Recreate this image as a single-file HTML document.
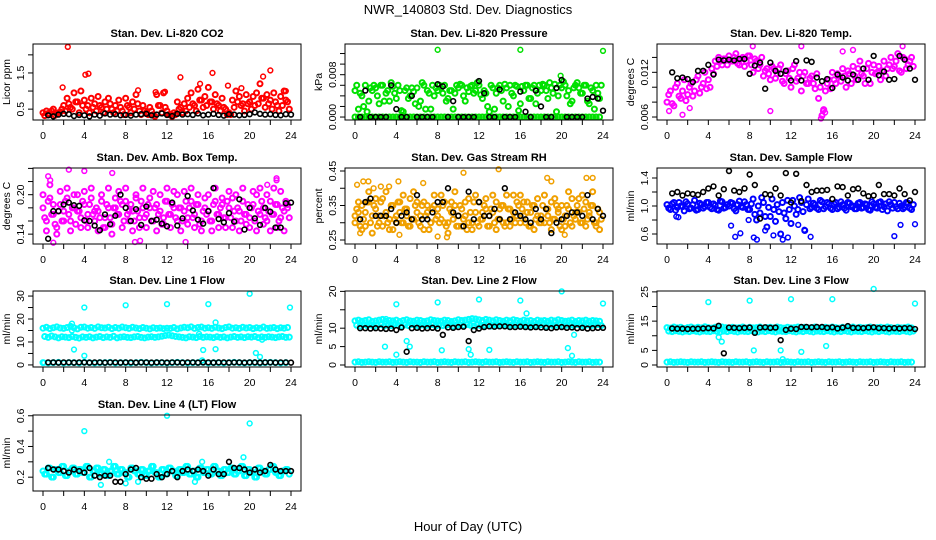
<!DOCTYPE html>
<html><head><meta charset="utf-8">
<style>
html,body{margin:0;padding:0;background:#fff;}
svg{display:block;font-family:"Liberation Sans",Arial,sans-serif;}
.t{font-weight:bold;font-size:11px;}
.tk{font-size:10.5px;}
</style></head>
<body>
<svg id="chart" width="936" height="540" viewBox="0 0 936 540">
<text x="468" y="14" text-anchor="middle" font-size="13">NWR_140803  Std. Dev. Diagnostics</text>
<text x="468" y="531" text-anchor="middle" font-size="13">Hour of Day (UTC)</text>
</svg>
<script>
// ---------- data ----------
const xTicks=[0,2,4,6,8,10,12,14,16,18,20,22,24];
const xTickLabels=["0","","4","","8","","12","","16","","20","","24"];

// P1 CO2
const co2A=[.40,.45,.35,.50,.38,.42,.60,.80,.55,.95,.70,1.0,.75,.60,.80,.65,.85,.55,.70,.80,.50,.60,.75,.45,.80,.55,.70,.90,.45,.60,.40,.55,.35,.90,.60,.95,.45,.35,.40,.70,.55,.65,.80,.95,.60,1.05,.75,.85,1.1,.70,.90,.60,.80,.50,.40,.75,1.0,.85,.65,.90,.70,.85,.95,1.2,.80,.90,.75,.95,.60,.85,1.0,.70];
const co2B=[.32,.38,.45,.33,.40,.50,.45,.65,.50,.70,.40,.60,.50,.40,.55,.45,.60,.40,.50,.65,.40,.45,.55,.35,.60,.40,.50,.65,.35,.45,.35,.45,.30,.60,.40,.55,.35,.30,.35,.50,.40,.45,.55,.65,.45,.75,.55,.60,.70,.50,.65,.45,.55,.35,.35,.55,.70,.60,.45,.65,.50,.60,.65,.80,.55,.65,.50,.70,.45,.60,.75,.50];
const co2OutX=[2.4,4.1,4.4,13.3,16.4,22,21.3,1.9,17.9,9.2,11.8,10.9,15.2,19.2,23.5];
const co2OutY=[2.22,1.45,1.48,1.38,1.5,1.57,1.4,1.1,1.15,1.02,0.98,0.97,1.2,1.08,1.0];
const co2Blk=[.33,.30,.35,.37,.36,.31,.34,.33,.30,.35,.32,.38,.35,.36,.33,.34,.32,.35,.36,.37,.33,.35,.38,.34,.31,.37,.35,.36,.34,.38,.33,.35,.37,.34,.32,.36,.35,.33,.34,.36,.41,.37,.35,.36,.34,.33,.36,.35];

// P2 Pressure
const prA=[0,0,0,0,0,0,0,0,0,0,0,0,0,0,0,0,0,0,0,0,0,0,0,0,0,0,0,0,0,0,0,0,0,0,0,0,0,0,0,0,0,0,0,0,0,0,0,0,0,0,0,0,0,0,0,0,0,0,0,0,0,0,0,0,0,0,0,0,0,0,0,0];
const prB=[.0060,.0045,.0020,.0010,.0055,.0060,.0040,.0060,.0030,.0050,.0065,.0045,.0060,.0012,.0050,.0035,.0055,.0025,.0020,.0065,.0015,.0045,.0060,.0055,.0060,.0045,.0030,.0050,.0015,.0060,.0062,.0040,.0055,.0058,.0045,.0065,.0042,.0050,.0020,.0060,.0015,.0055,.0050,.0062,.0020,.0045,.0060,.0012,.0058,.0060,.0035,.0055,.0025,.0060,.0062,.0050,.0065,.0045,.0010,.0060,.0067,.0040,.0025,.0055,.0065,.0045,.0060,.0030,.0055,.0015,.0045,.0060];
const prC=[.0050,.0015,.0040,.0060,.0030,.0050,.0055,.0025,.0060,.0045,.0030,.0058,.0035,.0050,.0010,.0055,.0040,.0048,.0055,.0030,.0060,.0050,.0015,.0040,.0050,.0055,.0060,.0035,.0050,.0045,.0055,.0060,.0030,.0048,.0060,.0050,.0060,.0035,.0045,.0010,.0055,.0045,.0060,.0030,.0055,.0060,.0040,.0058,.0025,.0050,.0060,.0035,.0060,.0045,.0050,.0060,.0035,.0055,.0062,.0040,.0055,.0060,.0050,.0030,.0060,.0055,.0045,.0060,.0025,.0050,.0060,.0035];
const prOutX=[8,16,24,19.9];
const prOutY=[.0127,.0127,.0125,.0078];
const prBlk=[0,.0050,0,0,0,0,.0060,.0015,0,0,.0040,0,0,0,0,.0062,.0058,0,.0030,0,0,0,0,.0068,.0045,0,0,.0052,0,0,0,.0048,.0010,0,.0050,.0020,0,0,.0055,.0070,0,0,0,0,.0035,.0038,.0035,.0012];

// P3 Li-820 Temp
const tmA=[.0080,.0095,.0075,.0105,.0085,.0110,.0090,.0105,.0095,.0115,.0100,.0120,.0110,.0125,.0135,.0140,.0130,.0138,.0142,.0135,.0145,.0130,.0140,.0135,.0142,.0120,.0135,.0130,.0115,.0125,.0110,.0125,.0118,.0130,.0105,.0122,.0100,.0130,.0112,.0095,.0120,.0105,.0115,.0098,.0085,.0062,.0095,.0110,.0120,.0105,.0115,.0125,.0100,.0118,.0128,.0110,.0135,.0115,.0125,.0105,.0130,.0120,.0110,.0135,.0125,.0140,.0128,.0145,.0120,.0138,.0130,.0140];
const tmB=[.0090,.0078,.0100,.0088,.0095,.0082,.0100,.0088,.0110,.0092,.0105,.0098,.0100,.0118,.0128,.0135,.0138,.0130,.0135,.0140,.0132,.0138,.0128,.0142,.0130,.0138,.0125,.0140,.0122,.0118,.0128,.0112,.0125,.0108,.0118,.0112,.0125,.0108,.0120,.0115,.0105,.0112,.0105,.0118,.0100,.0070,.0105,.0098,.0110,.0118,.0108,.0115,.0122,.0105,.0115,.0125,.0118,.0105,.0132,.0120,.0118,.0128,.0122,.0115,.0130,.0125,.0135,.0122,.0140,.0125,.0135,.0128];
const tmOutX=[.2,1.5,2.2,13,14.9,15.1,15.3,8.3,10,17,18,22.8];
const tmOutY=[.0068,.0063,.0072,.0155,.0058,.0068,.0066,.0155,.0068,.0148,.0150,.0155];
const tmBlk=[.0120,.0112,.0113,.0111,.0107,.0122,.0122,.0130,.0117,.0137,.0136,.0137,.0136,.0138,.0138,.0118,.0129,.0133,.0098,.0133,.0122,.0118,.0122,.0109,.0135,.0109,.0136,.0134,.0113,.0108,.0111,.0099,.0117,.0113,.0109,.0117,.0110,.0125,.0110,.0142,.0116,.0121,.0110,.0111,.0142,.0137,.0125,.0110];

// P4 Amb box temp
const abA=[.180,.160,.195,.170,.150,.185,.175,.195,.160,.180,.200,.165,.185,.170,.195,.160,.175,.190,.165,.180,.155,.195,.170,.185,.190,.160,.175,.200,.165,.180,.170,.195,.160,.185,.175,.165,.190,.170,.205,.160,.180,.175,.165,.190,.170,.185,.160,.195,.175,.160,.190,.170,.185,.165,.180,.195,.160,.175,.190,.170,.165,.185,.200,.170,.180,.160,.190,.170,.185,.165,.175,.180];
const abB=[.165,.190,.170,.155,.175,.160,.190,.170,.180,.155,.175,.190,.160,.185,.170,.180,.165,.150,.185,.165,.180,.170,.190,.160,.170,.185,.160,.175,.190,.165,.185,.160,.180,.170,.155,.190,.170,.185,.165,.180,.160,.190,.180,.165,.185,.155,.175,.170,.160,.185,.170,.180,.165,.190,.165,.175,.180,.160,.170,.185,.180,.160,.175,.190,.165,.175,.170,.185,.160,.180,.190,.165];
const abC=[.200,.145,.215,.185,.140,.205,.160,.210,.145,.200,.175,.150,.205,.150,.210,.175,.145,.200,.150,.210,.140,.180,.205,.150,.210,.175,.145,.195,.150,.210,.150,.180,.205,.145,.200,.155,.210,.150,.180,.200,.145,.205,.155,.210,.150,.200,.145,.180,.200,.145,.210,.150,.195,.150,.205,.150,.200,.145,.210,.155,.150,.205,.145,.210,.155,.200,.145,.210,.150,.205,.145,.185];
const abOutX=[.5,.7,2.5,4,6.7,8.9,13.8,9.4,1,21.7,22.6,22.6];
const abOutY=[.228,.222,.238,.236,.233,.128,.128,.130,.127,.215,.225,.222];
const abBlk=[.133,.175,.175,.185,.188,.184,.183,.161,.160,.153,.146,.170,.155,.168,.200,.180,.160,.178,.154,.182,.160,.162,.156,.152,.188,.153,.164,.198,.176,.162,.156,.175,.210,.163,.158,.172,.159,.193,.147,.180,.164,.154,.180,.174,.150,.150,.187,.188];

// P5 Gas stream RH
const rhA=[.300,.330,.350,.290,.360,.320,.340,.300,.370,.330,.280,.350,.320,.360,.300,.340,.370,.310,.330,.290,.360,.350,.300,.380,.340,.310,.360,.300,.330,.350,.290,.340,.320,.370,.300,.330,.360,.310,.340,.290,.330,.360,.310,.350,.300,.340,.380,.320,.300,.360,.330,.290,.350,.370,.320,.300,.340,.360,.310,.330,.350,.290,.340,.370,.310,.330,.300,.360,.320,.350,.290,.330];
const rhB=[.340,.290,.310,.360,.300,.350,.290,.360,.320,.300,.350,.310,.360,.300,.340,.290,.310,.350,.300,.350,.320,.280,.340,.310,.300,.350,.290,.340,.310,.290,.350,.310,.280,.330,.360,.300,.310,.350,.290,.340,.300,.310,.350,.290,.340,.310,.300,.350,.340,.300,.290,.350,.310,.300,.350,.340,.300,.310,.350,.290,.310,.350,.300,.320,.350,.300,.340,.310,.350,.300,.340,.310];
const rhC=[.320,.360,.280,.330,.390,.270,.370,.320,.290,.390,.310,.280,.300,.330,.380,.320,.290,.390,.360,.320,.280,.330,.300,.350,.320,.380,.300,.270,.360,.390,.320,.290,.360,.300,.280,.380,.290,.330,.370,.320,.380,.280,.340,.300,.380,.290,.330,.360,.380,.320,.360,.330,.280,.320,.300,.380,.320,.280,.370,.340,.280,.320,.390,.290,.330,.370,.380,.290,.330,.390,.300,.280];
const rhOutX=[.2,.8,1.3,2.5,3.3,4.2,6.6,8,8.9,10.5,13.9,19,18.6,20.3,22.4,23,0.5,4.3,1.8];
const rhOutY=[.41,.42,.42,.405,.405,.42,.415,.26,.258,.445,.455,.42,.43,.265,.43,.43,.27,.265,.40];
const rhBlk=[.31,.36,.37,.32,.32,.32,.34,.30,.32,.33,.31,.38,.31,.31,.33,.36,.36,.40,.33,.32,.29,.39,.31,.36,.32,.32,.34,.31,.40,.31,.33,.32,.31,.30,.34,.31,.34,.27,.30,.31,.32,.33,.33,.32,.38,.31,.34,.32];

// P6 Sample flow
const sfA=[1.02,.95,1.05,.98,1.00,.93,1.03,.97,1.08,.95,1.02,.99,1.05,.96,1.01,.94,1.06,.98,1.00,1.04,.93,1.07,.98,1.02,.95,1.10,.80,.90,1.05,.70,.85,.95,1.02,.60,.90,1.08,.75,1.00,.95,1.05,.65,1.10,.98,1.02,.95,1.06,.99,1.03,.95,1.05,.98,1.02,.94,1.04,1.00,.96,1.05,.98,1.02,.94,1.03,.97,1.06,.99,.93,1.02,1.05,.96,1.00,.98,1.04,.95];
const sfB=[.97,1.03,.94,1.05,.99,1.06,.96,1.02,.94,1.04,.97,1.05,.98,1.03,.95,1.07,.97,1.02,1.05,.96,1.02,.99,1.06,.95,1.03,.88,1.00,1.12,.85,.98,1.10,.78,.92,1.05,.82,.95,1.08,.88,1.12,.92,1.02,.96,1.04,.97,1.08,.96,1.05,.97,1.03,.96,1.06,.97,1.05,.99,.96,1.04,.97,1.03,.95,1.06,.98,1.05,.95,1.03,1.06,.97,.99,1.04,.96,1.05,.97,1.02];
const sfOutX=[.9,1.1,6.2,6.6,7.1,8.4,8.7,9.5,11.2,11.7,12.7,13.3,13.9,22,22.6,24,7.9,10.3];
const sfOutY=[.85,.84,.72,.56,.61,.55,.52,.65,.52,.55,.73,.66,.56,.57,.73,.74,.80,.58];
const sfBlk=[1.18,1.20,1.15,1.18,1.17,1.16,1.20,1.25,1.28,1.15,1.24,1.50,1.22,1.20,1.25,1.45,1.30,.82,1.17,1.16,1.25,1.15,1.47,1.05,1.46,1.07,1.30,1.20,1.22,1.22,1.23,1.10,1.28,1.27,1.15,1.24,1.25,1.18,1.14,1.15,1.30,1.17,1.17,1.15,1.25,1.17,1.08,1.20];

// P7 Line 1 flow
const l1Hi=[16.0,16.4,15.8,16.2,16.6,16.1,15.9,16.3,16.8,16.2,15.7,16.4,16.5,16.0,16.3,15.9,16.6,16.2,16.1,16.4,15.8,16.3,16.0,16.5,16.2,15.9,16.4,16.1,15.8,16.3,16.0,15.7,16.2,15.9,16.1,15.8,16.0,15.9,16.3,15.7,16.1,16.4,16.2,16.6,15.9,16.3,16.5,16.0,16.2,15.9,16.4,16.1,15.8,16.3,16.6,16.0,16.2,15.9,16.4,16.1,16.3,15.8,16.2,16.0,16.5,15.9,16.1,16.3,15.8,16.2,16.0,16.3];
const l1Mid=[12.4,12.0,12.6,12.2,11.8,12.3,12.1,11.9,12.4,12.0,11.7,12.2,12.0,12.3,11.8,12.1,12.4,11.9,12.2,12.0,12.5,11.8,12.1,12.3,12.0,11.9,12.2,12.4,12.0,11.8,12.1,12.3,12.0,12.2,12.5,12.8,13.0,12.7,12.4,12.2,12.0,11.8,12.3,12.1,11.9,12.4,12.0,12.2,12.1,11.9,12.3,12.0,12.2,11.8,12.1,12.4,12.0,12.2,11.9,12.3,12.1,12.4,11.9,12.2,12.0,12.3,12.1,11.9,12.2,12.4,12.0,12.1];
const l1Low=[1.0,0.9,1.0,1.1,0.9,1.0,1.0,0.9,1.1,1.0,0.9,1.0,1.0,1.1,0.9,1.0,1.0,0.9,1.0,1.1,1.0,0.9,1.0,1.0,0.9,1.0,1.1,1.0,0.9,1.0,1.0,1.1,0.9,1.0,1.0,0.9,1.0,1.1,1.0,0.9,1.0,1.0,0.9,1.0,1.1,1.0,0.9,1.0];
const l1OutX=[2.8,3,4,4,8,12,16,16.7,15.5,16.7,20,20.6,21,21.2,23.9,0.1,2.8,15.1,15.4];
const l1OutY=[18,6.7,25,4,26,26.5,26.5,18.5,6.5,6.9,31,5.2,3.5,11,25,1,15,13.5,2];
const l1Blk=[1.1,1.1,1.0,1.1,1.1,1.0,1.1,1.1,1.0,1.1,1.1,1.0,1.1,1.1,1.0,1.1,1.1,1.0,1.1,1.1,1.0,1.1,1.1,1.0,1.1,1.1,1.0,1.1,1.1,1.0,1.1,1.1,1.0,1.1,1.1,1.0,1.1,1.1,1.0,1.1,1.1,1.0,1.1,1.1,1.0,1.1,1.1,1.0];

// P8 Line 2 flow
const l2Hi=[12.0,12.2,11.9,12.1,12.3,11.8,12.0,12.2,12.4,11.9,12.1,12.0,12.2,11.8,12.1,12.3,12.0,11.9,12.2,12.1,11.8,12.0,12.3,12.1,12.0,11.9,12.2,12.1,11.8,12.0,12.3,12.1,12.2,12.4,12.6,12.5,12.3,12.1,12.4,12.2,12.0,12.3,12.1,11.9,12.2,12.0,12.3,12.1,11.9,12.2,12.0,12.1,11.8,12.2,12.0,12.1,11.9,12.2,12.0,12.3,12.1,11.9,12.0,12.2,11.8,12.1,12.0,12.2,11.9,12.1,12.0,11.9];
const l2Mid=[10.8,10.6,11.0,10.7,10.9,10.5,10.8,11.0,10.6,10.9,10.7,11.0,10.8,10.6,10.9,10.7,11.0,10.8,10.6,10.9,10.7,10.8,11.0,10.6,10.9,10.7,10.8,11.0,10.6,10.8,10.9,10.7,11.0,10.8,10.6,10.9,10.7,10.8,11.0,10.6,10.9,10.7,10.8,11.0,10.6,10.8,10.9,10.7,11.0,10.8,10.6,10.9,10.7,10.8,11.0,10.6,10.9,10.7,10.8,11.0,10.6,10.8,10.9,10.7,11.0,10.8,10.6,10.9,10.7,10.8,11.0,10.7];
const l2Low=[0.8,0.9,0.7,0.8,0.9,0.8,0.7,0.9,0.8,0.8,0.9,0.7,0.8,0.9,0.8,0.7,0.9,0.8,0.8,0.7,0.9,0.8,0.8,0.9,0.7,0.8,0.9,0.8,0.7,0.9,0.8,0.8,0.9,0.7,0.8,0.9,0.8,0.7,0.9,0.8,0.8,0.9,0.7,0.8,0.9,0.8,0.7,0.9,0.8,0.8,0.9,0.7,0.8,0.9,0.8,0.7,0.9,0.8,0.8,0.9,0.7,0.8,0.9,0.8,0.7,0.9,0.8,0.8,0.9,0.7,0.8,0.8];
const l2OutX=[2.9,4,4,5,5.3,8,8.4,11,11.2,12,13,16,16.6,20,20.6,21,21.2,24,3,14];
const l2OutY=[5,16.5,2.8,6.5,5,17,4,4.3,2.8,17.8,4.1,17.5,14,20,4.6,2.5,8.2,16.7,12.5,0.8];
const l2Blk=[10.0,10.0,9.9,10.0,9.9,9.8,9.9,9.5,10.2,3.6,10.0,10.1,9.9,10.0,10.1,9.9,8.2,10.2,10.1,10.3,10.4,6.5,9.5,9.9,10.3,10.5,10.4,10.5,10.5,10.3,10.3,10.4,10.3,10.2,10.3,10.2,10.1,10.0,10.2,10.3,10.1,10.2,10.0,10.1,9.9,10.0,10.1,10.1];

// P9 Line 3 flow
const l3Hi=[12.8,12.6,13.0,12.7,12.9,12.5,12.8,13.0,12.6,12.9,12.7,13.1,12.8,12.6,12.9,12.7,13.0,12.8,12.6,12.9,12.7,12.8,13.0,12.6,12.9,12.7,12.8,13.0,12.6,12.8,12.9,12.7,13.0,12.8,12.6,12.9,12.7,12.8,13.0,12.6,12.9,12.7,12.8,13.0,12.6,12.8,12.9,12.7,13.0,12.8,12.6,12.9,12.7,12.8,13.0,12.6,12.9,12.7,12.8,13.0,12.6,12.8,12.9,12.7,13.0,12.8,12.6,12.9,12.7,12.8,13.0,12.7];
const l3Mid=[11.6,11.4,11.7,11.5,11.3,11.6,11.4,11.7,11.5,11.3,11.6,11.5,11.4,11.7,11.5,11.3,11.6,11.4,11.7,11.5,11.3,11.6,11.5,11.4,11.7,11.5,11.3,11.6,11.4,11.7,11.5,11.3,11.6,11.5,11.4,11.7,11.5,11.3,11.6,11.4,11.7,11.5,11.3,11.6,11.5,11.4,11.7,11.5,11.3,11.6,11.4,11.7,11.5,11.3,11.6,11.5,11.4,11.7,11.5,11.3,11.6,11.4,11.7,11.5,11.3,11.6,11.5,11.4,11.7,11.5,11.3,11.6];
const l3Low=[1.0,1.1,0.9,1.0,1.1,1.0,0.9,1.1,1.0,1.0,1.1,0.9,1.0,1.1,1.0,0.9,1.1,1.0,1.0,0.9,1.1,1.0,1.0,1.1,0.9,1.0,1.1,1.0,0.9,1.1,1.0,1.0,1.1,0.9,1.0,1.1,1.0,0.9,1.1,1.0,1.0,1.1,0.9,1.0,1.1,1.0,0.9,1.1,1.0,1.0,1.1,0.9,1.0,1.1,1.0,0.9,1.1,1.0,1.0,1.1,0.9,1.0,1.1,1.0,0.9,1.1,1.0,1.0,1.1,0.9,1.0,1.0];
const l3OutX=[4,5,5.3,8,8.4,11,11.2,12,13,15.4,16,20,24];
const l3OutY=[21.5,9.5,8,22,5,5,2,22.5,4.5,6.5,22.5,26,21];
const l3Blk=[12.5,12.4,12.4,12.3,12.4,12.4,12.5,12.6,12.5,13.4,4.0,12.8,12.7,12.6,12.7,12.8,11.0,12.8,12.9,12.7,12.8,8.5,12.0,12.4,12.3,13.0,13.0,12.9,13.0,13.0,12.7,12.9,12.5,12.8,13.3,12.7,12.7,12.6,12.8,12.9,12.6,12.6,12.5,12.6,12.5,12.6,12.6,12.3];

// P10 Line 4 (LT) flow
const l4A=[.24,.22,.26,.20,.25,.23,.27,.21,.24,.26,.22,.25,.23,.27,.20,.24,.26,.22,.25,.21,.24,.27,.22,.25,.23,.20,.26,.24,.22,.25,.21,.24,.27,.23,.20,.25,.22,.26,.24,.21,.25,.23,.27,.22,.24,.20,.26,.23,.25,.22,.27,.24,.21,.25,.23,.26,.22,.24,.27,.21,.25,.23,.20,.26,.24,.22,.25,.27,.23,.21,.24,.25];
const l4B=[.22,.26,.20,.25,.23,.27,.21,.24,.26,.22,.25,.23,.27,.20,.24,.26,.22,.25,.21,.24,.27,.22,.25,.23,.20,.26,.24,.22,.25,.21,.24,.27,.23,.20,.25,.22,.26,.24,.21,.25,.23,.27,.22,.24,.20,.26,.23,.25,.22,.27,.24,.21,.25,.23,.26,.22,.24,.27,.21,.25,.23,.20,.26,.24,.22,.25,.27,.23,.21,.24,.25,.22];
const l4OutX=[4,12,20,19.4,6.4,5.6,15.4,14.7,8,9.2];
const l4OutY=[.5,.6,.55,.33,.3,.15,.3,.17,.16,.17];
const l4Blk=[.26,.25,.25,.24,.23,.25,.24,.23,.26,.21,.20,.21,.21,.17,.17,.22,.25,.26,.20,.19,.19,.22,.20,.22,.24,.20,.24,.25,.24,.25,.24,.21,.25,.22,.22,.30,.26,.26,.25,.23,.25,.23,.24,.28,.25,.24,.24,.24];

// tick values & labels
const co2YTicks=[0.5,1.0,1.5,2.0], co2YLabels=["0.5","","1.5",""];
const prYTicks=[0,.002,.004,.006,.008,.010,.012], prYLabels=["0.000","","","","0.008","",""];
const tmYTicks=[.006,.008,.010,.012,.014], tmYLabels=["0.006","","","0.012",""];
const abYTicks=[.14,.16,.18,.20,.22,.24], abYLabels=["0.14","","","0.20","",""];
const rhYTicks=[.25,.30,.35,.40,.45], rhYLabels=["0.25","","0.35","","0.45"];
const sfYTicks=[.6,.8,1.0,1.2,1.4], sfYLabels=["0.6","","1.0","","1.4"];
const l1YTicks=[0,5,10,15,20,25,30], l1YLabels=["0","","10","","20","","30"];
const l2YTicks=[0,5,10,15,20], l2YLabels=["0","5","10","","20"];
const l3YTicks=[0,5,10,15,20,25], l3YLabels=["0","5","","15","","25"];
const l4YTicks=[.2,.3,.4,.5,.6], l4YLabels=["0.2","","0.4","","0.6"];

// ---------- layout / styles ----------
const panels=[
 {name:"co2",title:"Stan. Dev. Li-820 CO2",ylab:"Licor ppm",col:0,row:0,ylim:[0.2,2.3],color:"#ff0000",series:[co2A,co2B],ox:co2OutX,oy:co2OutY,blk:co2Blk,yt:co2YTicks,yl:co2YLabels},
 {name:"pressure",title:"Stan. Dev. Li-820 Pressure",ylab:"kPa",col:1,row:0,ylim:[-0.00056,0.0138],color:"#00e000",series:[prA,prB,prC],ox:prOutX,oy:prOutY,blk:prBlk,yt:prYTicks,yl:prYLabels},
 {name:"li820-temp",title:"Stan. Dev. Li-820 Temp.",ylab:"degrees C",col:2,row:0,ylim:[0.0056,0.0158],color:"#ff00ff",series:[tmA,tmB],ox:tmOutX,oy:tmOutY,blk:tmBlk,yt:tmYTicks,yl:tmYLabels},
 {name:"amb-box-temp",title:"Stan. Dev. Amb. Box Temp.",ylab:"degrees C",col:0,row:1,ylim:[0.125,0.2406],color:"#ff00ff",series:[abA,abB,abC],ox:abOutX,oy:abOutY,blk:abBlk,yt:abYTicks,yl:abYLabels},
 {name:"gas-stream-rh",title:"Stan. Dev. Gas Stream RH",ylab:"percent",col:1,row:1,ylim:[0.2384,0.4587],color:"#f0a000",series:[rhA,rhB,rhC],ox:rhOutX,oy:rhOutY,blk:rhBlk,yt:rhYTicks,yl:rhYLabels},
 {name:"sample-flow",title:"Stan. Dev. Sample Flow",ylab:"ml/min",col:2,row:1,ylim:[0.457,1.543],color:"#0000ff",series:[sfA,sfB],ox:sfOutX,oy:sfOutY,blk:sfBlk,yt:sfYTicks,yl:sfYLabels},
 {name:"line1-flow",title:"Stan. Dev. Line 1 Flow",ylab:"ml/min",col:0,row:2,ylim:[-0.9,32.2],color:"#00ffff",series:[l1Hi,l1Mid,l1Low],ox:l1OutX,oy:l1OutY,blk:l1Blk,yt:l1YTicks,yl:l1YLabels},
 {name:"line2-flow",title:"Stan. Dev. Line 2 Flow",ylab:"ml/min",col:1,row:2,ylim:[-0.54,20.1],color:"#00ffff",series:[l2Hi,l2Mid,l2Low],ox:l2OutX,oy:l2OutY,blk:l2Blk,yt:l2YTicks,yl:l2YLabels},
 {name:"line3-flow",title:"Stan. Dev. Line 3 Flow",ylab:"ml/min",col:2,row:2,ylim:[-0.68,25.3],color:"#00ffff",series:[l3Hi,l3Mid,l3Low],ox:l3OutX,oy:l3OutY,blk:l3Blk,yt:l3YTicks,yl:l3YLabels},
 {name:"line4-flow",title:"Stan. Dev. Line 4 (LT) Flow",ylab:"ml/min",col:0,row:3,ylim:[0.11,0.605],color:"#00ffff",series:[l4A,l4B],ox:l4OutX,oy:l4OutY,blk:l4Blk,yt:l4YTicks,yl:l4YLabels}
];
const rowTops=[44,168,291,415];
const NS="http://www.w3.org/2000/svg";
const svg=document.getElementById('chart');
function mk(tag,attrs,parent){const e=document.createElementNS(NS,tag);for(const k in attrs)e.setAttribute(k,attrs[k]);(parent||svg).appendChild(e);return e;}

panels.forEach(p=>{
  const x0=43+312*p.col, x24=291+312*p.col;
  const L=x0-10, R=x24+10, T=rowTops[p.row], B=T+76;
  const xs=v=>x0+(x24-x0)*v/24;
  const ys=v=>B-(v-p.ylim[0])/(p.ylim[1]-p.ylim[0])*(B-T);
  const g=mk('g',{});
  
  
  const tt=mk('text',{x:(L+R)/2,y:T-7,'text-anchor':'middle',class:'t'},g);
  tt.textContent=p.title;
  
  
  const pts=mk('g',{fill:'none','stroke-width':2},g);
  
  
  p.series.forEach((arr,si)=>{
    const n=arr.length, off=si%2?12/n:0;
    arr.forEach((v,i)=>{
      const c=mk('circle',{cx:xs(i*24/n+off),cy:ys(v),r:2.5,stroke:p.color},pts);
      
      
    });
  });
  p.ox.forEach((x,i)=>{
    const c=mk('circle',{cx:xs(x),cy:ys(p.oy[i]),r:2.4,stroke:p.color,'stroke-width':1.5},pts);
    
    
  });
  p.blk.forEach((v,i)=>{
    const c=mk('circle',{cx:xs((i+1)*0.5),cy:ys(v),r:2.4,stroke:'#000','stroke-width':1.6},pts);
    
    
  });
  const bx=mk('rect',{x:L,y:T,width:R-L,height:B-T,fill:'none',stroke:'#000','stroke-width':1},g);
  
  
  const xa=mk('g',{},g);
  
  
  mk('line',{x1:xs(0),x2:xs(24),y1:B,y2:B,stroke:'#000'},xa);
  xTicks.forEach((t,i)=>{
    mk('line',{x1:xs(t),x2:xs(t),y1:B,y2:B+5,stroke:'#000'},xa);
    if(xTickLabels[i]){const tx=mk('text',{x:xs(t),y:B+19,'text-anchor':'middle',class:'tk'},xa);tx.textContent=xTickLabels[i];}
  });
  const ya=mk('g',{},g);
  
  
  mk('line',{x1:L,x2:L,y1:ys(p.yt[0]),y2:ys(p.yt[p.yt.length-1]),stroke:'#000'},ya);
  p.yt.forEach((t,i)=>{
    const y=ys(t);
    mk('line',{x1:L-5,x2:L,y1:y,y2:y,stroke:'#000'},ya);
    if(p.yl[i]){const tx=mk('text',{x:L-9,y:y,'text-anchor':'middle',class:'tk',transform:`rotate(-90 ${L-9} ${y})`},ya);tx.textContent=p.yl[i];}
  });
  const yt=mk('text',{x:L-23,y:(T+B)/2,'text-anchor':'middle','font-size':10.5,transform:`rotate(-90 ${L-23} ${(T+B)/2})`},g);
  yt.textContent=p.ylab;
  
  
});
</script>
</body></html>
